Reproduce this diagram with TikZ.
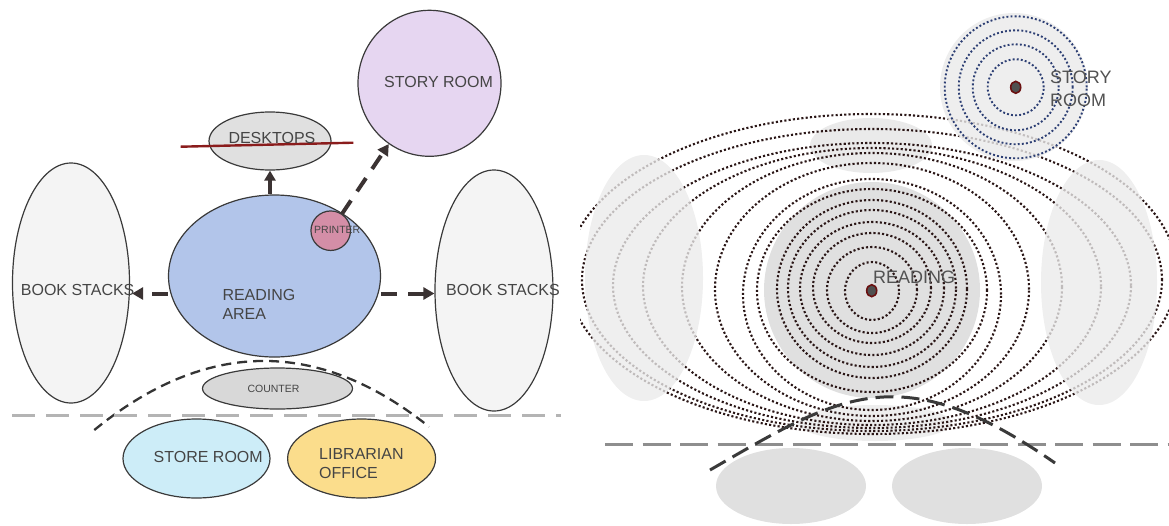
\documentclass[tikz,border=0pt]{standalone}
\usepackage{fontspec}
\setmainfont{Liberation Sans}
\usetikzlibrary{arrows.meta, shapes.geometric}

% outline and text inks
\definecolor{ink}{HTML}{3A3A3A}
\definecolor{txt}{HTML}{454545}
\definecolor{softtxt}{HTML}{525252}
\definecolor{arrowink}{HTML}{3B3333}
% room fills
\definecolor{storyfill}{HTML}{E6D6F1}
\definecolor{deskfill}{HTML}{E0E0E0}
\definecolor{readfill}{HTML}{B2C5EA}
\definecolor{printfill}{HTML}{D48EA7}
\definecolor{stackfill}{HTML}{F4F4F4}
\definecolor{counterfill}{HTML}{D8D8D8}
\definecolor{storefill}{HTML}{CDEDF8}
\definecolor{officefill}{HTML}{FBDD8C}
\definecolor{strike}{HTML}{8A1C1C}
\definecolor{floorline}{HTML}{B4B4B4}
\definecolor{floorlinedark}{HTML}{8E8E8E}
% zone diagram
\definecolor{ringink}{HTML}{2A1616}
\definecolor{storyring}{HTML}{2C3E73}
\definecolor{zonegray}{HTML}{E0E0E0}
\definecolor{zonelight}{HTML}{EAEAEA}
\definecolor{zonefaint}{HTML}{EEEEEE}
\definecolor{dotfill}{HTML}{505050}
\definecolor{dotrim}{HTML}{6A1010}

\begin{document}
\begin{tikzpicture}[x=1pt, y=-1pt,
  room/.style={draw=ink, line width=1.2pt, ellipse, inner sep=0pt},
  lbl/.style={anchor=base west, inner sep=0pt, text=txt,
              font=\fontsize{16}{19}\selectfont},
  smalllbl/.style={anchor=base west, inner sep=0pt, text=txt,
              font=\fontsize{10.5}{12}\selectfont},
  zonelbl/.style={anchor=base west, inner sep=0pt, text=softtxt,
              font=\fontsize{18}{21}\selectfont},
  flow/.style={draw=arrowink, line width=4pt,
               -{Triangle[length=11pt, width=12pt]}},
  flowdash/.style={flow, dash pattern=on 16pt off 11pt},
  ring/.style={draw=ringink, line width=2.1pt, dash pattern=on 2.1pt off 2.2pt},
  storyringstyle/.style={draw=storyring, line width=1.9pt, dash pattern=on 1.9pt off 2.2pt},
  centredot/.style={fill=dotfill, draw=dotrim, line width=1.6pt},
]
\useasboundingbox (0,0) rectangle (1169,525);

% ---------------- bubble plan ----------------
\node[room, fill=stackfill, minimum width=117pt, minimum height=240pt] (lstack) at (71,283) {};
\node[room, fill=stackfill, minimum width=118pt, minimum height=241pt] (rstack) at (494,290.5) {};
\node[room, fill=readfill, minimum width=212pt, minimum height=162pt] (reading) at (274.5,276) {};
\node[room, fill=printfill, circle, minimum size=39.5pt] (printer) at (330.7,230.7) {};
\node[room, fill=deskfill, minimum width=122pt, minimum height=58pt] (desktops) at (270,141) {};
\node[room, fill=storyfill, minimum width=143pt, minimum height=146pt] (story) at (429.5,83.3) {};
\node[room, fill=counterfill, minimum width=150pt, minimum height=41pt] (counter) at (277.5,388.5) {};
\node[room, fill=storefill, minimum width=147pt, minimum height=79pt] (store) at (196.5,458.5) {};
\node[room, fill=officefill, minimum width=148pt, minimum height=79pt] (office) at (361.6,458.5) {};

% struck-out desktops
\draw[strike, line width=2.4pt] (180.7,146.7) -- (353.3,142.7);

% circulation arrows
\coordinate (flowrow) at (0,293.5);
\draw[flow, -{Triangle[length=10pt, width=11pt]}] (reading.north -| desktops.south) -- (desktops.south);
\draw[flowdash] (reading.west |- flowrow) -- ([xshift=2pt]lstack.east |- flowrow);
\draw[flowdash] (reading.east |- flowrow) -- (rstack.west |- flowrow);
\draw[flowdash] (printer) -- (story);

% service boundary and floor line
\coordinate (arcL) at (94.3,430);
\coordinate (arcR) at (429,426.7);
\draw[draw=ink!90!black, line width=2.3pt, dash pattern=on 10pt off 6pt]
  (arcL) .. controls (206,339) and (318,338) .. (arcR);
\coordinate (floorL) at (12,415);
\coordinate (floorR) at (561,415);
\draw[floorline, line width=3pt, dash pattern=on 23pt off 11pt] (floorL) -- (floorR);

% labels
\node[lbl] (storytxt) at (384,87.3) {STORY ROOM};
\node[lbl] (desktxt) at (228.3,143.5) {DESKTOPS};
\node[lbl] (readtxt) at (222.3,300) {READING};
\node[lbl] (areatxt) at (222.3,319.3) {AREA};
\node[smalllbl] (printtxt) at (314,233.3) {PRINTER};
\node[lbl] (lstacktxt) at (20.7,295) {BOOK STACKS};
\node[lbl] (rstacktxt) at (446,295) {BOOK STACKS};
\node[smalllbl] (countertxt) at (247.3,392.7) {COUNTER};
\node[lbl] (storetxt) at (153.5,462.7) {STORE ROOM};
\node[lbl] (libtxt) at (319,459.3) {LIBRARIAN};
\node[lbl] (officetxt) at (319,478.3) {OFFICE};

% ---------------- zone diagram ----------------
\begin{scope}
  \clip (580,0) rectangle (1169,525);
  % zones lying under the rings
  \fill[zonelight] (871,145.5) ellipse [x radius=61pt, y radius=27.5pt];
  \fill[zonegray] (872,290) circle [radius=108pt];
  \fill[zonefaint] (875,423) ellipse [x radius=77pt, y radius=18pt];
  \fill[zonegray] (791,486) ellipse [x radius=75pt, y radius=38pt];
  \fill[zonegray] (967,486) ellipse [x radius=75pt, y radius=38pt];
  % rings spreading out from the reading zone
  \foreach \rx/\top/\bot in {27/262/320, 45/247/333, 59/233/343, 72/222/355,
                             84/210/367, 95/200/378, 115/189/392, 129/179/410,
                             157/163/416, 190/153/421, 229/148/425, 259/143/428,
                             290/129/431, 305/114/434}
    \draw[ring] (872,{(\top+\bot)/2}) ellipse [x radius=\rx*1pt, y radius={(\bot-\top)/2*1pt}];
  % stack zones laid over the rings
  \fill[zonelight, opacity=0.78] (644,278) ellipse [x radius=59pt, y radius=123pt];
  \fill[zonelight, opacity=0.78] (1099,282.5) ellipse [x radius=58pt, y radius=122.5pt];
  % story room zone
  \fill[zonelight, opacity=0.8] (1014,87) circle [radius=74pt];
  \foreach \r in {28,43,57,71}
    \draw[storyringstyle] (1015.7,87.3) circle [radius=\r*1pt];
\end{scope}

% centres of the two zones
\filldraw[centredot] (871.7,290.7) ellipse [x radius=5pt, y radius=6pt];
\filldraw[centredot] (1015.7,87.3) ellipse [x radius=5pt, y radius=6pt];

% floor line and service boundary
\coordinate (zfloorL) at (605,444);
\coordinate (zfloorR) at (1169,444);
\draw[floorlinedark, line width=3pt, dash pattern=on 28pt off 9.5pt] (zfloorL) -- (zfloorR);
\coordinate (zarcL) at (710,470);
\coordinate (zarcR) at (1055,463);
\draw[draw=ink, line width=3pt, dash pattern=on 18pt off 8pt]
  (zarcL) .. controls (840,395) and (900,355) .. (zarcR);

% zone labels
\node[zonelbl] (zreadtxt) at (873,283.5) {READING};
\node[zonelbl] (zstorytxt) at (1050,83.5) {STORY};
\node[zonelbl] (zroomtxt) at (1050,106) {ROOM};
\end{tikzpicture}
\end{document}
